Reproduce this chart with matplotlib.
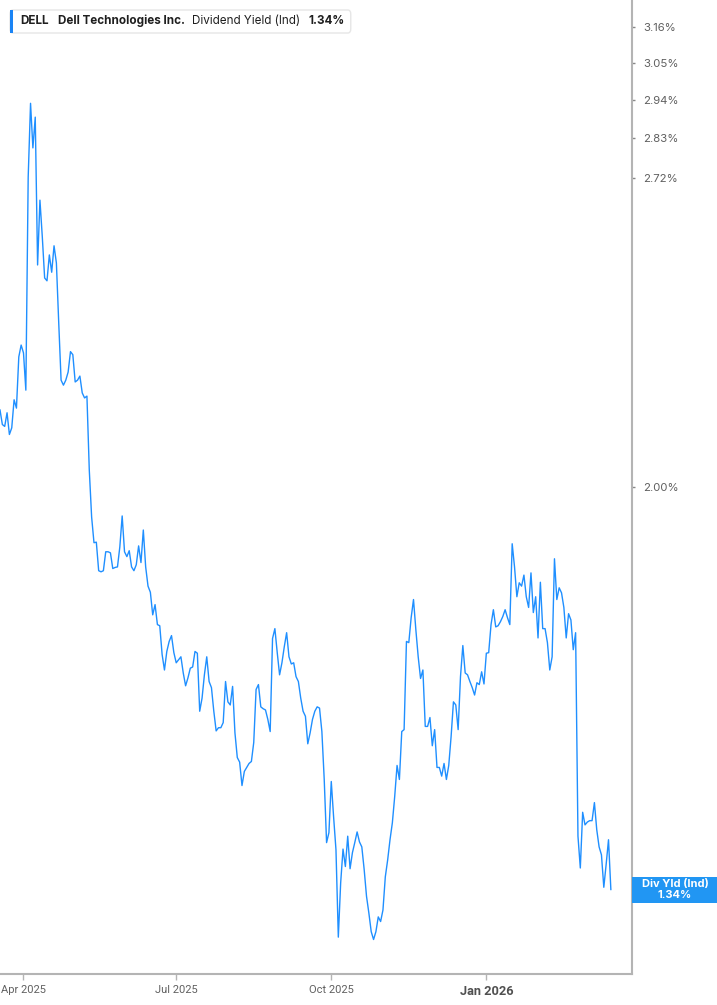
import pandas as pd
import matplotlib
matplotlib.use("Agg")
import matplotlib.pyplot as plt
from matplotlib.patches import FancyBboxPatch, Rectangle
from matplotlib.ticker import FixedLocator, NullLocator, FuncFormatter

# Daily dividend yield (%), one value per weekday
start_date = "2025-03-18"
div_yield = [
    2.159, 2.128, 2.124, 2.153, 2.107, 2.121, 2.181, 2.163, 2.276, 2.303,
    2.285, 2.202, 2.722, 2.929, 2.802, 2.889, 2.494, 2.660, 2.565, 2.462,
    2.455, 2.519, 2.476, 2.542, 2.499, 2.354, 2.224, 2.213, 2.224, 2.242,
    2.288, 2.281, 2.220, 2.224, 2.233, 2.196, 2.185, 2.189, 2.034, 1.941,
    1.892, 1.893, 1.840, 1.838, 1.840, 1.875, 1.875, 1.873, 1.844, 1.846,
    1.847, 1.884, 1.943, 1.875, 1.866, 1.877, 1.847, 1.840, 1.851, 1.886,
    1.855, 1.916, 1.847, 1.812, 1.801, 1.761, 1.779, 1.744, 1.742, 1.693,
    1.667, 1.698, 1.715, 1.725, 1.696, 1.679, 1.684, 1.689, 1.662, 1.641,
    1.654, 1.670, 1.672, 1.698, 1.695, 1.600, 1.621, 1.659, 1.689, 1.648,
    1.638, 1.600, 1.569, 1.574, 1.574, 1.582, 1.648, 1.615, 1.610, 1.640,
    1.566, 1.528, 1.521, 1.486, 1.507, 1.513, 1.519, 1.522, 1.551, 1.635,
    1.643, 1.607, 1.604, 1.602, 1.587, 1.568, 1.720, 1.737, 1.696, 1.659,
    1.679, 1.706, 1.730, 1.689, 1.677, 1.679, 1.656, 1.648, 1.621, 1.600,
    1.592, 1.549, 1.566, 1.587, 1.600, 1.607, 1.605, 1.568, 1.495, 1.404,
    1.418, 1.492, 1.440, 1.394, 1.278, 1.349, 1.395, 1.371, 1.413, 1.368,
    1.390, 1.404, 1.419, 1.405, 1.398, 1.367, 1.331, 1.309, 1.285, 1.275,
    1.285, 1.304, 1.298, 1.313, 1.357, 1.380, 1.408, 1.432, 1.470, 1.516,
    1.495, 1.568, 1.571, 1.715, 1.713, 1.756, 1.788, 1.735, 1.689, 1.653,
    1.667, 1.576, 1.576, 1.590, 1.546, 1.571, 1.513, 1.513, 1.500, 1.519,
    1.495, 1.516, 1.560, 1.615, 1.610, 1.571, 1.656, 1.708, 1.662, 1.659,
    1.648, 1.638, 1.626, 1.646, 1.643, 1.664, 1.644, 1.695, 1.696, 1.744,
    1.770, 1.740, 1.742, 1.749, 1.758, 1.770, 1.756, 1.744, 1.890, 1.847,
    1.793, 1.818, 1.812, 1.832, 1.793, 1.774, 1.836, 1.765, 1.793, 1.721,
    1.819, 1.737, 1.737, 1.713, 1.667, 1.689, 1.862, 1.788, 1.809, 1.800,
    1.774, 1.721, 1.763, 1.752, 1.701, 1.730, 1.413, 1.369, 1.447, 1.429,
    1.433, 1.435, 1.435, 1.461, 1.422, 1.398, 1.387, 1.343, 1.374, 1.408,
    1.340,
]
dates = pd.bdate_range(start_date, periods=len(div_yield))

y_ticks = [2.00, 2.72, 2.83, 2.94, 3.05, 3.16]
x_ticks = ["2025-04-01", "2025-07-01", "2025-10-01", "2026-01-01"]
x_labels = ["Apr 2025", "Jul 2025", "Oct 2025", "Jan 2026"]

ticker, company, metric = "DELL", "Dell Technologies Inc.", "Dividend Yield (Ind)"
last_label = f"{div_yield[-1]:.2f}%"

LINE = "#1f8fff"
BOX = "#2196f3"
GRID = "#b4b4b4"
TXT = "#606060"
FONT = ["Inter", "DejaVu Sans"]

W, H = 717, 1005
fig = plt.figure(figsize=(W / 100, H / 100), dpi=100)
fig.patch.set_facecolor("white")

def fx(x):
    return x / W

def fy(y):
    return 1 - y / H

# trading-day axis: points evenly spaced, ticks at first session of each quarter
pos = list(range(len(dates)))
tick_pos = [int(dates.searchsorted(pd.Timestamp(d))) for d in x_ticks]

ax = fig.add_axes([0, fy(974), fx(632), 974 / H])
ax.plot(pos, div_yield, color=LINE, lw=1.0)

ax.set_yscale("log")
ax.set_ylim(1.232, 3.246)
ax.yaxis.set_major_locator(FixedLocator(y_ticks))
ax.yaxis.set_minor_locator(NullLocator())
ax.yaxis.set_major_formatter(FuncFormatter(lambda v, p: f"{v:.2f}%"))
ax.yaxis.tick_right()

ax.set_xlim(0, 269)
ax.set_xticks(tick_pos)
ax.set_xticklabels(x_labels)
ax.xaxis.set_minor_locator(NullLocator())

for s in ["top", "left"]:
    ax.spines[s].set_visible(False)
for s in ["right", "bottom"]:
    ax.spines[s].set_color(GRID)
    ax.spines[s].set_linewidth(1.5)

ax.tick_params(axis="y", length=2, width=1, color="#888888", pad=6,
               labelsize=8.2, labelcolor=TXT)
ax.tick_params(axis="x", length=4, width=1, color=GRID, pad=4,
               labelsize=8.0, labelcolor=TXT)
for lab in ax.get_yticklabels():
    lab.set_family(FONT)
for lab in ax.get_xticklabels():
    lab.set_family(["Roboto", "DejaVu Sans"])
    if lab.get_text() == "Jan 2026":
        lab.set_fontweight("bold")
        lab.set_fontsize(9.2)
        lab.set_color("#505050")

# header box top-left, pieces laid out one after another
renderer = fig.canvas.get_renderer()
hdr = dict(fontsize=8.4, color="#1f1f1f", va="center", family=FONT, zorder=7)
parts = [(ticker, "bold", 9), (company, "bold", 8), (metric, "normal", 8), (last_label, "bold", 0)]
x = 20
for txt, wt, gap in parts:
    t = fig.text(fx(x), fy(21), txt, fontweight=wt, **hdr)
    x += t.get_window_extent(renderer).width + gap
fig.patches.append(FancyBboxPatch((fx(10), fy(33)), fx(x + 6 - 10), 23 / H,
                                  boxstyle="round,pad=0,rounding_size=0.004",
                                  transform=fig.transFigure, facecolor="white",
                                  edgecolor="#e6e6e6", lw=1.0, zorder=5))
fig.patches.append(Rectangle((fx(10), fy(33)), fx(3), 23 / H,
                             transform=fig.transFigure, facecolor="#1a84f5",
                             edgecolor="none", zorder=6))

# last-value tag on the right axis
y_last = ax.transData.transform((pos[-1], div_yield[-1]))[1] / H
fig.patches.append(Rectangle((fx(632), y_last - 13 / H), fx(85), 26 / H,
                             transform=fig.transFigure, facecolor=BOX,
                             edgecolor="none", zorder=5))
fig.text(fx(675), y_last + 5.5 / H, "Div Yld (Ind)", color="white", fontsize=8,
         fontweight="bold", ha="center", va="center", family=FONT, zorder=6)
fig.text(fx(675), y_last - 5.5 / H, last_label, color="white", fontsize=8,
         fontweight="bold", ha="center", va="center", family=FONT, zorder=6)

fig.savefig("out.png", dpi=100)
